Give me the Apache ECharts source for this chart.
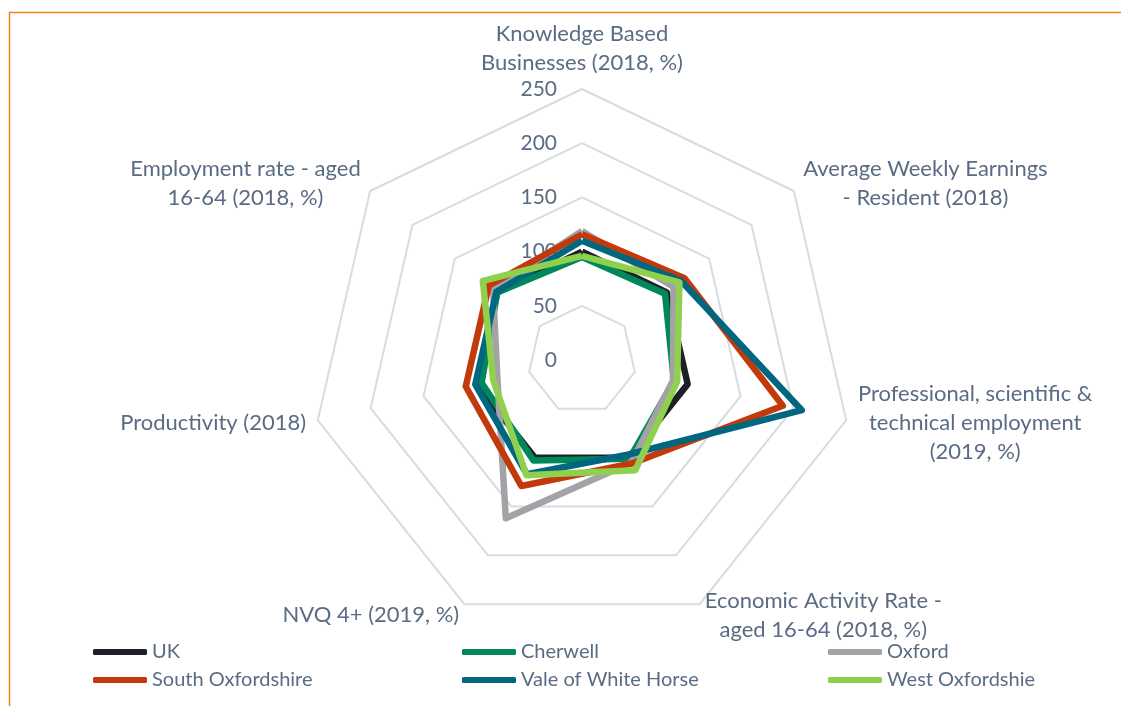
<!DOCTYPE html>
<html>
<head>
<meta charset="utf-8">
<script src="https://cdn.jsdelivr.net/npm/echarts@6/dist/echarts.min.js"></script>
<style>
    html, body { margin: 0; padding: 0; background: #ffffff; }
    #chart { width: 1121px; height: 706px; }
</style>
</head>
<body>
<div id="chart"></div>
<script>
// Indicators, read clockwise from the top
const indicatorNames = [
    'Knowledge Based\nBusinesses (2018, %)',
    'Average Weekly Earnings\n- Resident (2018)',
    'Professional, scientific &\ntechnical employment\n(2019, %)',
    'Economic Activity Rate -\naged 16-64 (2018, %)',
    'NVQ 4+ (2019, %)',
    'Productivity (2018)',
    'Employment rate - aged\n16-64 (2018, %)'
];

// Index values (UK = 100), same clockwise order
const ukValues = [100, 100, 100, 100, 100, 100, 100];
const cherwellValues = [95, 98, 87, 101, 103, 95, 100];
const oxfordValues = [119, 108, 86, 105, 162, 80, 105];
const southOxValues = [116, 121, 190, 106, 129, 110, 110];
const valeValues = [110, 117, 208, 97, 117, 101, 101];
const westOxValues = [96, 115, 90, 113, 118, 84, 117];

const seriesNames = ['UK', 'Cherwell', 'Oxford', 'South Oxfordshire', 'Vale of White Horse', 'West Oxfordshie'];
const seriesColors = ['#1d2127', '#00885a', '#a4a2a7', '#c23a0c', '#00677f', '#8fd14f'];
const allValues = [ukValues, cherwellValues, oxfordValues, southOxValues, valeValues, westOxValues];

// legend columns: each column holds two entries
const legendColumns = [
    ['UK', 'South Oxfordshire'],
    ['Cherwell', 'Vale of White Horse'],
    ['Oxford', 'West Oxfordshie']
];
const legendLefts = [93, 462, 828];

const axisMax = 250;
const axisSplits = 5;

const textColor = '#5a6b84';
const fontFamily = 'Lato, "Open Sans", sans-serif';

// echarts radar runs counter-clockwise, so keep the first item and reverse the rest
function toCounterClockwise(arr) {
    return [arr[0]].concat(arr.slice(1).reverse());
}

const chart = echarts.init(document.getElementById('chart'), null, { renderer: 'canvas' });

const indicators = toCounterClockwise(indicatorNames).map(function(name, i) {
    const ind = { name: name, min: 0, max: axisMax };
    if (i === 0) {
        // only the top spoke carries the scale labels
        ind.axisLabel = {
            show: true,
            margin: 25,
            color: textColor,
            fontSize: 21,
            fontFamily: fontFamily
        };
    }
    return ind;
});

const legends = legendColumns.map(function(names, i) {
    return {
        data: names,
        left: legendLefts[i],
        top: 640,
        orient: 'vertical',
        padding: 0,
        icon: 'roundRect',
        itemWidth: 54,
        itemHeight: 6,
        itemGap: 4,
        textStyle: {
            color: textColor,
            fontSize: 20,
            fontFamily: fontFamily,
            lineHeight: 24
        }
    };
});

const option = {
    animation: false,
    backgroundColor: '#ffffff',
    graphic: [
        {
            type: 'polyline',
            shape: { points: [[9.5, 706], [9.5, 12.5], [1121, 12.5]] },
            style: { stroke: '#f0831e', lineWidth: 1.5, fill: null },
            silent: true
        }
    ],
    legend: legends,
    radar: {
        center: [582, 360],
        radius: 271,
        startAngle: 90,
        shape: 'polygon',
        splitNumber: axisSplits,
        nameGap: 12,
        axisName: {
            color: textColor,
            fontSize: 22,
            fontFamily: fontFamily,
            lineHeight: 29,
            formatter: function(name) {
                return name.split('\n').map(function(line) {
                    return '{c|' + line + '}';
                }).join('\n');
            },
            rich: {
                c: {
                    align: 'center',
                    color: textColor,
                    fontSize: 22,
                    fontFamily: fontFamily,
                    lineHeight: 29
                }
            }
        },
        axisLine: { show: false },
        axisTick: { show: false },
        axisLabel: { show: false },
        splitArea: { show: false },
        splitLine: {
            lineStyle: { color: '#d6dbe4', width: 2 }
        },
        indicator: indicators
    },
    series: seriesNames.map(function(name, i) {
        return {
            name: name,
            type: 'radar',
            symbol: 'none',
            lineStyle: { color: seriesColors[i], width: 6.5, join: 'round' },
            itemStyle: { color: seriesColors[i] },
            data: [{ name: name, value: toCounterClockwise(allValues[i]) }]
        };
    })
};

chart.setOption(option);
</script>
</body>
</html>
